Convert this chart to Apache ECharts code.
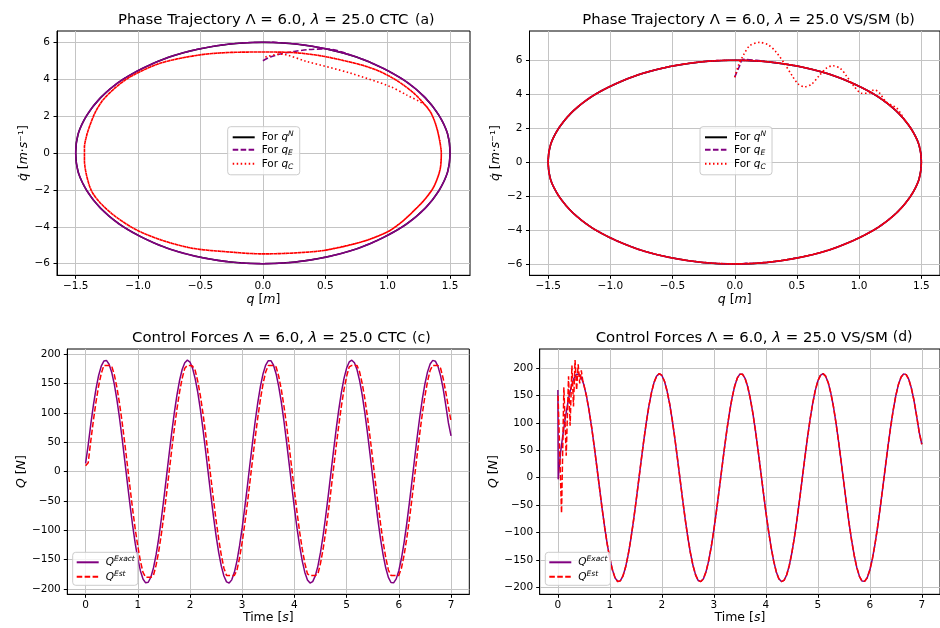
<!DOCTYPE html>
<html><head><meta charset="utf-8">
<script src="https://cdn.jsdelivr.net/npm/echarts@6/dist/echarts.min.js"></script>
<style>html,body{margin:0;padding:0;background:#fff}#c{width:940px;height:628px}</style>
</head><body><div id="c"></div>
<script>
// ================= DATA =================
// Reference orbit q^N (one revolution, closed) (a)/(b)
const orbitQ = [0,0.26,0.51,0.75,0.96,1.15,1.30,1.41,1.48,1.50,1.48,1.41,1.30,1.15,0.96,0.75,0.51,0.26,0,-0.26,-0.51,-0.75,-0.96,-1.15,-1.30,-1.41,-1.48,-1.50,-1.48,-1.41,-1.30,-1.15,-0.96,-0.75,-0.51,-0.26,0];
const orbitV = [6,5.91,5.64,5.2,4.6,3.86,3.0,2.05,1.04,0,-1.04,-2.05,-3.0,-3.86,-4.6,-5.2,-5.64,-5.91,-6,-5.91,-5.64,-5.2,-4.6,-3.86,-3.0,-2.05,-1.04,0,1.04,2.05,3.0,3.86,4.6,5.2,5.64,5.91,6];

// Panel (a): q_E start, q_C start and the smaller CTC limit loop
const qEStartQa = [0, 0.06, 0.14, 0.25, 0.36];
const qEStartVa = [5.0, 5.2, 5.36, 5.5, 5.6];
const qCStartQa = [0.02, 0.14, 0.35, 0.70, 1.02, 1.15];
const qCStartVa = [5.2, 5.36, 4.96, 4.33, 3.6, 3.15];
const innerQa = [0,0.22,0.45,0.62,0.80,0.94,1.08,1.21,1.30,1.345,1.375,1.40,1.42,1.43,1.42,1.37,1.30,1.23,1.12,1.00,0.80,0.50,0.25,0,-0.30,-0.56,-0.80,-1.01,-1.18,-1.30,-1.37,-1.41,-1.43,-1.43,-1.41,-1.38,-1.34,-1.28,-1.18,-1.06,-0.82,-0.50,-0.25,0];
const innerVa = [5.47,5.45,5.28,5.05,4.75,4.41,3.90,3.24,2.60,2.2,1.75,1.2,0.55,0,-0.90,-1.83,-2.50,-3.00,-3.70,-4.27,-4.80,-5.27,-5.42,-5.47,-5.35,-5.17,-4.75,-4.18,-3.45,-2.73,-2.10,-1.30,-0.40,0.30,1.00,1.61,2.25,2.88,3.55,4.14,4.87,5.32,5.45,5.47];

// Panel (b): q_E start and q_C transient wave
const qEStartQb = [0, 0.035, 0.07];
const qEStartVb = [5.0, 5.6, 6.05];
const qCStartQb = [0,0.03,0.07,0.12,0.20,0.27,0.33,0.40,0.46,0.51,0.56,0.62,0.68,0.74,0.79,0.85,0.90,0.96,1.02,1.07,1.12,1.16,1.21,1.26,1.30,1.34,1.37];
const qCStartVb = [5.0,5.7,6.3,6.85,7.05,6.9,6.5,5.8,5.1,4.6,4.43,4.6,5.1,5.55,5.67,5.5,5.05,4.45,4.05,4.05,4.25,4.1,3.6,3.35,3.2,2.8,2.45];

// Panels (c)/(d): control forces
const timeC = [0,0.05,0.1,0.15,0.2,0.25,0.3,0.35,0.4,0.45,0.5,0.55,0.6,0.65,0.7,0.75,0.8,0.85,0.9,0.95,
1,1.05,1.1,1.15,1.2,1.25,1.3,1.35,1.4,1.45,1.5,1.55,1.6,1.65,1.7,1.75,1.8,1.85,1.9,1.95,
2,2.05,2.1,2.15,2.2,2.25,2.3,2.35,2.4,2.45,2.5,2.55,2.6,2.65,2.7,2.75,2.8,2.85,2.9,2.95,
3,3.05,3.1,3.15,3.2,3.25,3.3,3.35,3.4,3.45,3.5,3.55,3.6,3.65,3.7,3.75,3.8,3.85,3.9,3.95,
4,4.05,4.1,4.15,4.2,4.25,4.3,4.35,4.4,4.45,4.5,4.55,4.6,4.65,4.7,4.75,4.8,4.85,4.9,4.95,
5,5.05,5.1,5.15,5.2,5.25,5.3,5.35,5.4,5.45,5.5,5.55,5.6,5.65,5.7,5.75,5.8,5.85,5.9,5.95,
6,6.05,6.1,6.15,6.2,6.25,6.3,6.35,6.4,6.45,6.5,6.55,6.6,6.65,6.7,6.75,6.8,6.85,6.9,6.95,7];
const qExact = [14,45.2,80.9,113.5,141.5,163.9,179.7,188.4,189.5,183.1,169.5,149.0,122.6,91.4,56.5,19.3,-18.7,-55.9,-90.8,-121.8,-148.1,-168.8,-183.0,-189.5,-188.5,-179.9,-164.2,-141.9,-114.0,-81.5,-45.8,-8.2,
29.7,66.4,100.4,130.5,155.3,174.0,185.7,190.0,186.7,176.0,158.2,134.6,105.1,71.5,34.8,-2.9,-40.6,-76.7,-109.4,-137.8,-161.0,-177.9,-187.9,-189.8,-184.4,-171.6,-151.9,-126.2,-95.5,-60.9,-24.0,
14.0,51.3,86.7,118.5,145.7,167.0,181.7,189.1,189.0,181.4,166.5,145.0,118.0,85.9,50.4,12.9,-25.0,-62.0,-96.3,-126.6,-152.0,-171.7,-184.6,-189.8,-187.5,-177.7,-160.9,-137.6,-108.8,-75.6,-39.5,-1.8,
36.0,72.3,105.8,135.0,158.9,176.5,186.9,190.0,185.4,173.5,154.6,130.0,99.7,65.5,28.5,-9.3,-46.9,-82.5,-114.5,-142.1,-164.3,-180.1,-188.9,-189.4,-182.7,-168.7,-148.0,-121.3,-89.9,-54.8,-17.6,
20.3,57.5,92.3,123.4,149.7,170.0,183.5,189.6,188.2,179.4,163.2,140.9,112.9,83,61];
const qEstC = [10,15,52.3,87.4,119.1,146.0,167.1,181,181,181,180,165.4,143.7,116.4,84.4,49.1,11.7,-26.1,-62.9,-97.0,-127.1,-152.2,-171.6,-180,-180,-180,-176.8,-159.7,-136.3,-107.5,-74.4,-38.3,
-0.6,37.0,73.2,106.4,135.5,159.0,176.3,181,181,180,172.4,153.5,128.7,98.4,64.2,27.3,-10.4,-47.8,-83.2,-115.1,-142.4,-164.4,-177,-177,-177,-177,-167.7,-146.8,-120.1,-88.6,-53.5,
-16.4,21.5,58.4,93.1,123.9,150.0,169.9,181,181,181,178.4,162.2,139.6,111.6,78.8,42.9,5.3,-32.4,-68.9,-102.4,-131.7,-155.9,-174.3,-177,-177,-177,-174.3,-156.2,-131.8,-102.2,-68.4,-32.0,
5.8,43.3,79.0,111.6,139.8,162.4,178.6,181,181,181,169.7,149.7,123.9,92.9,58.1,20.9,-16.8,-54.0,-88.9,-120.0,-146.5,-167.5,-177,-177,-177,-177,-164.6,-142.7,-115.0,-82.9,-47.4,
-10.0,27.7,64.5,98.5,128.7,153.8,172.7,181,181,181,176.2,158.7,135.3,110,86];
// Panel (d) start transients
const exactStartTd = [0, 0.006];
const exactStartQd = [160, -3];
const estStartTd = [0.003,0.07,0.115,0.16,0.205,0.235,0.27,0.30,0.33,0.36,0.39,0.42,0.45,0.48];
const estStartQd = [150,-65,165,40,185,95,205,130,215,160,207,172,196,176];

// Tick values
const phaseXTicks = [-1.5,-1,-0.5,0,0.5,1,1.5];
const phaseYTicks = [-6,-4,-2,0,2,4,6];
const timeTicks = [0,1,2,3,4,5,6,7];
const forceTicks = [-200,-150,-100,-50,0,50,100,150,200];

// ================= BUILD =================
const FONT = 'DejaVu Sans';
const zip = (xs, ys) => xs.map((x, i) => [x, ys[i]]);
const minus = s => String(s).replace('-', '\u2212');

const orbitPts = zip(orbitQ, orbitV);
const orbitLoop = orbitPts.slice(1);
const innerPts = zip(innerQa, innerVa);
const innerLoop = innerPts.slice(1);

const qNa = orbitPts;
const qEa = zip(qEStartQa, qEStartVa).concat(orbitPts.slice(2), orbitLoop, orbitLoop, orbitLoop, orbitPts.slice(1, 19));
const qCa = zip(qCStartQa, qCStartVa).concat(innerPts.slice(8), innerLoop, innerLoop, innerLoop, innerPts.slice(1, 22));
const qNb = orbitPts;
const qEb = zip(qEStartQb, qEStartVb).concat(orbitPts.slice(1), orbitLoop, orbitLoop, orbitLoop, orbitPts.slice(1, 19));
const qCb = zip(qCStartQb, qCStartVb).concat(orbitPts.slice(7), orbitLoop, orbitLoop, orbitLoop, orbitPts.slice(1, 19));

const exactC = zip(timeC, qExact);
const estC = zip(timeC, qEstC);
const exactD = zip(exactStartTd, exactStartQd).concat(exactC.slice(1));
const estD = zip(estStartTd, estStartQd).concat(exactC.slice(10));

const grids = [
  {left: 57, top: 31, width: 413, height: 244.3},
  {left: 529.5, top: 31, width: 412, height: 244.3},
  {left: 67.3, top: 349, width: 402, height: 245.3},
  {left: 539.7, top: 349, width: 402.2, height: 245.3}
].map(g => Object.assign({show: true, borderColor: '#000', borderWidth: 1, backgroundColor: 'transparent'}, g));

const nameRich = {
  i: {fontFamily: FONT, fontSize: 12.5, fontStyle: 'italic', color: '#000'}
};
function axis(gi, min, max, ticks, fmt, name, gap, labelMargin) {
  return {
    type: 'value', gridIndex: gi, min: min, max: max,
    name: name, nameLocation: 'middle', nameGap: gap,
    nameTextStyle: {fontFamily: FONT, fontSize: 12.5, color: '#000', rich: nameRich},
    axisLine: {show: true, onZero: false, lineStyle: {color: '#000', width: 1}},
    axisTick: {show: true, length: 3.5, customValues: ticks, lineStyle: {color: '#000', width: 1}},
    axisLabel: {customValues: ticks, formatter: fmt, color: '#000', fontFamily: FONT, fontSize: 10.5, margin: labelMargin},
    splitLine: {show: true, lineStyle: {color: '#c4c4c4', width: 1}}
  };
}
const f1 = v => minus(v.toFixed(1));
const f0 = v => minus(Math.round(v));

const xAxes = [
  axis(0, -1.65, 1.66, phaseXTicks, f1, '{i|q} [{i|m}]', 18, 5),
  axis(1, -1.65, 1.65, phaseXTicks, f1, '{i|q} [{i|m}]', 18, 5),
  axis(2, -0.35, 7.35, timeTicks, f0, 'Time [{i|s}]', 17, 5),
  axis(3, -0.35, 7.35, timeTicks, f0, 'Time [{i|s}]', 17, 5)
];
const yAxes = [
  axis(0, -6.63, 6.61, phaseYTicks, f0, '{i|q\u0307} [{i|m}\u00b7{i|s}\u207b\u00b9]', 24, 7),
  axis(1, -6.67, 7.72, phaseYTicks, f0, '{i|q\u0307} [{i|m}\u00b7{i|s}\u207b\u00b9]', 27, 7),
  axis(2, -209, 209, forceTicks, f0, '{i|Q} [{i|N}]', 38, 6.5),
  axis(3, -213, 235, forceTicks, f0, '{i|Q} [{i|N}]', 38.5, 6.5)
];

const PURPLE = '#800080', RED = '#ff0000';
const DASH = [5.55, 2.4], DOT = [1.5, 2.5];
function line(name, gi, data, color, type, width, smooth) {
  return {
    type: 'line', name: name, xAxisIndex: gi, yAxisIndex: gi, data: data,
    symbol: 'none', smooth: smooth, animation: false, clip: true,
    lineStyle: {color: color, width: width, type: type},
    itemStyle: {color: color}
  };
}
const series = [
  line('qN_a', 0, qNa, '#000', 'solid', 1.5, 0.3),
  line('qE_a', 0, qEa, PURPLE, DASH, 1.6, 0.3),
  line('qC_a', 0, qCa, RED, DOT, 1.6, 0.3),
  line('qN_b', 1, qNb, '#000', 'solid', 1.5, 0.3),
  line('qE_b', 1, qEb, PURPLE, DASH, 1.6, 0.3),
  line('qC_b', 1, qCb, RED, DOT, 1.6, 0.3),
  line('ex_c', 2, exactC, PURPLE, 'solid', 1.5, false),
  line('es_c', 2, estC, RED, DASH, 1.5, false),
  line('ex_d', 3, exactD, PURPLE, 'solid', 1.5, false),
  line('es_d', 3, estD, RED, DASH, 1.5, false)
];

const labelMap = {
  qN_a: '{n|For }{i|q}{sup|N}', qE_a: '{n|For }{i|q}{sub|E}', qC_a: '{n|For }{i|q}{sub|C}',
  qN_b: '{n|For }{i|q}{sup|N}', qE_b: '{n|For }{i|q}{sub|E}', qC_b: '{n|For }{i|q}{sub|C}',
  ex_c: '{i|Q}{sup|Exact}', es_c: '{i|Q}{sup|Est}', ex_d: '{i|Q}{sup|Exact}', es_d: '{i|Q}{sup|Est}'
};
const legendRich = {
  n: {fontFamily: FONT, fontSize: 10.5, lineHeight: 14, color: '#000'},
  i: {fontFamily: FONT, fontSize: 10.5, fontStyle: 'italic', lineHeight: 14, color: '#000'},
  sup: {fontFamily: FONT, fontSize: 7.5, fontStyle: 'italic', lineHeight: 6, verticalAlign: 'top', color: '#000'},
  sub: {fontFamily: FONT, fontSize: 7.5, fontStyle: 'italic', lineHeight: 8, verticalAlign: 'bottom', color: '#000'}
};
function legend(names, left, top, gap, padding) {
  return {
    orient: 'vertical', left: left, top: top, data: names, selectedMode: false,
    itemWidth: 22, itemHeight: 10, itemGap: gap, padding: padding,
    borderColor: '#cccccc', borderWidth: 1, borderRadius: 3, backgroundColor: 'rgba(255,255,255,0.8)',
    itemStyle: {opacity: 0},
    formatter: n => labelMap[n],
    textStyle: {fontFamily: FONT, fontSize: 10.5, color: '#000', padding: [0, 0, 0, 2], rich: legendRich}
  };
}
const legends = [
  legend(['qN_a', 'qE_a', 'qC_a'], 227.7, 126.7, 1.5, [3.6, 6, 4, 4]),
  legend(['qN_b', 'qE_b', 'qC_b'], 700, 126.7, 1.5, [3.6, 6, 4, 4]),
  legend(['ex_c', 'es_c'], 72.7, 552.3, 2, [3, 3, 3, 3]),
  legend(['ex_d', 'es_d'], 545.3, 552.3, 2, [3, 3, 3, 3])
];

const TS = 14.9;
const titleRich = {
  n: {fontFamily: FONT, fontSize: TS, lineHeight: 16, color: '#000'},
  i: {fontFamily: FONT, fontSize: TS, fontStyle: 'italic', lineHeight: 16, color: '#000'}
};
function title(text, left, top, size) {
  return {text: text, left: left, top: top, padding: 0,
    textStyle: {fontFamily: FONT, fontSize: size || TS, fontWeight: 'normal', lineHeight: 16, color: '#000', rich: titleRich}};
}
const titles = [
  title('{n|Phase Trajectory \u039b = 6.0, }{i|\u03bb}{n| = 25.0 CTC}', 118, 12),
  title('(a)', 415, 12, 14),
  title('{n|Phase Trajectory \u039b = 6.0, }{i|\u03bb}{n| = 25.0 VS/SM}', 582.3, 12),
  title('(b)', 895, 12, 14),
  title('{n|Control Forces \u039b = 6.0, }{i|\u03bb}{n| = 25.0 CTC}', 132, 330),
  title('(c)', 412, 330, 14),
  title('{n|Control Forces \u039b = 6.0, }{i|\u03bb}{n| = 25.0 VS/SM}', 595.7, 330),
  title('(d)', 892.7, 329, 14)
];

const chart = echarts.init(document.getElementById('c'), null, {renderer: 'canvas', width: 940, height: 628});
chart.setOption({
  animation: false,
  backgroundColor: '#fff',
  title: titles,
  legend: legends,
  grid: grids,
  xAxis: xAxes,
  yAxis: yAxes,
  series: series
});
</script>
</body></html>
